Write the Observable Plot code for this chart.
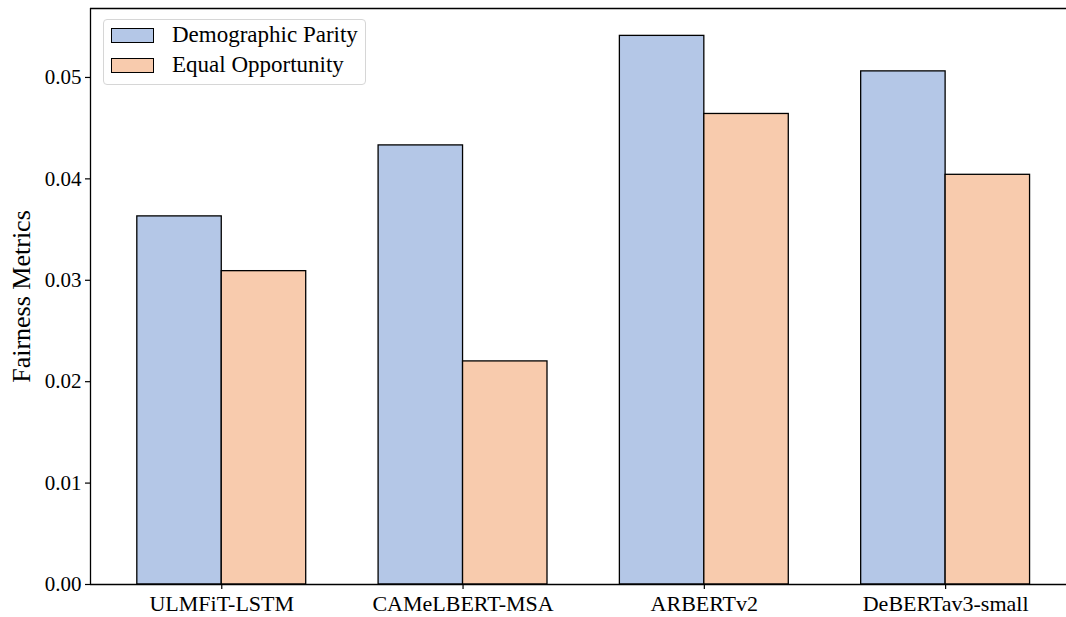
<!DOCTYPE html>
<html>
<head>
<meta charset="utf-8">
<script src="https://cdn.jsdelivr.net/npm/d3@7"></script>
<script src="https://cdn.jsdelivr.net/npm/@observablehq/plot@0.6"></script>
<style>
  html, body { margin: 0; padding: 0; background: #fff; }
  #wrap { position: relative; width: 1066px; height: 617px; font-family: "Liberation Serif", "DejaVu Serif", serif; }
  #legend { position: absolute; left: 103px; top: 19px; width: 263px; height: 66px; border: 1px solid #d6d6d6; border-radius: 4px; background: rgba(255,255,255,0.8); box-sizing: border-box; font-size: 23px; color: #000; }
  .item { position: absolute; left: 7px; display: flex; align-items: center; }
  .sw { width: 41px; height: 13px; border: 1.3px solid #000; margin-right: 18px; }
</style>
</head>
<body>
<div id="wrap"></div>
<script>
const models = ["ULMFiT-LSTM", "CAMeLBERT-MSA", "ARBERTv2", "DeBERTav3-small"];
const metrics = ["Demographic Parity", "Equal Opportunity"];
const demographicParity = [0.0363, 0.0433, 0.0541, 0.0506];
const equalOpportunity = [0.0309, 0.0220, 0.0464, 0.0404];
const colors = ["#b4c7e7", "#f8cbad"];
const yTicks = [0, 0.01, 0.02, 0.03, 0.04, 0.05];

const barWidth = 0.35;
const rows = [];
models.forEach((m, i) => {
  rows.push({model: m, metric: metrics[0], value: demographicParity[i], x1: i - barWidth, x2: i});
  rows.push({model: m, metric: metrics[1], value: equalOpportunity[i], x1: i, x2: i + barWidth});
});

const chart = Plot.plot({
  width: 1066,
  height: 617,
  marginLeft: 90,
  marginRight: 0,
  marginTop: 8,
  marginBottom: 33,
  style: {fontFamily: "'Liberation Serif', 'DejaVu Serif', serif", color: "#000", background: "#fff"},
  x: {domain: [-0.544, 3.501]},
  y: {domain: [0, 0.0568]},
  color: {domain: metrics, range: colors},
  marks: [
    Plot.rectY(rows, {x1: "x1", x2: "x2", y1: 0, y2: "value", fill: "metric", stroke: "#000", strokeWidth: 1.3}),
    Plot.axisY({ticks: yTicks, tickFormat: d3.format(".2f"), tickSize: 5, tickPadding: 4, fontSize: 21, label: null, strokeWidth: 1.2}),
    Plot.axisY({ticks: [], tickSize: 0, label: "Fairness Metrics", labelAnchor: "center", labelArrow: "none", labelOffset: 79, fontSize: 26}),
    Plot.axisX({ticks: [0, 1, 2, 3], tickFormat: i => models[i], tickSize: 5, tickPadding: 6, fontSize: 22, label: null, strokeWidth: 1.2}),
    Plot.ruleX([-0.544], {stroke: "#000", strokeWidth: 1.3}),
    Plot.ruleY([0], {stroke: "#000", strokeWidth: 1.3}),
    Plot.ruleY([0.0568], {stroke: "#000", strokeWidth: 1.3})
  ]
});

const wrap = document.getElementById("wrap");
wrap.appendChild(chart);

const legend = document.createElement("div");
legend.id = "legend";
metrics.forEach((m, i) => {
  const item = document.createElement("div");
  item.className = "item";
  item.style.top = (i === 0 ? 2 : 32) + "px";
  const sw = document.createElement("div");
  sw.className = "sw";
  sw.style.background = colors[i];
  const t = document.createElement("span");
  t.textContent = m;
  item.appendChild(sw);
  item.appendChild(t);
  legend.appendChild(item);
});
wrap.appendChild(legend);
</script>
</body>
</html>
